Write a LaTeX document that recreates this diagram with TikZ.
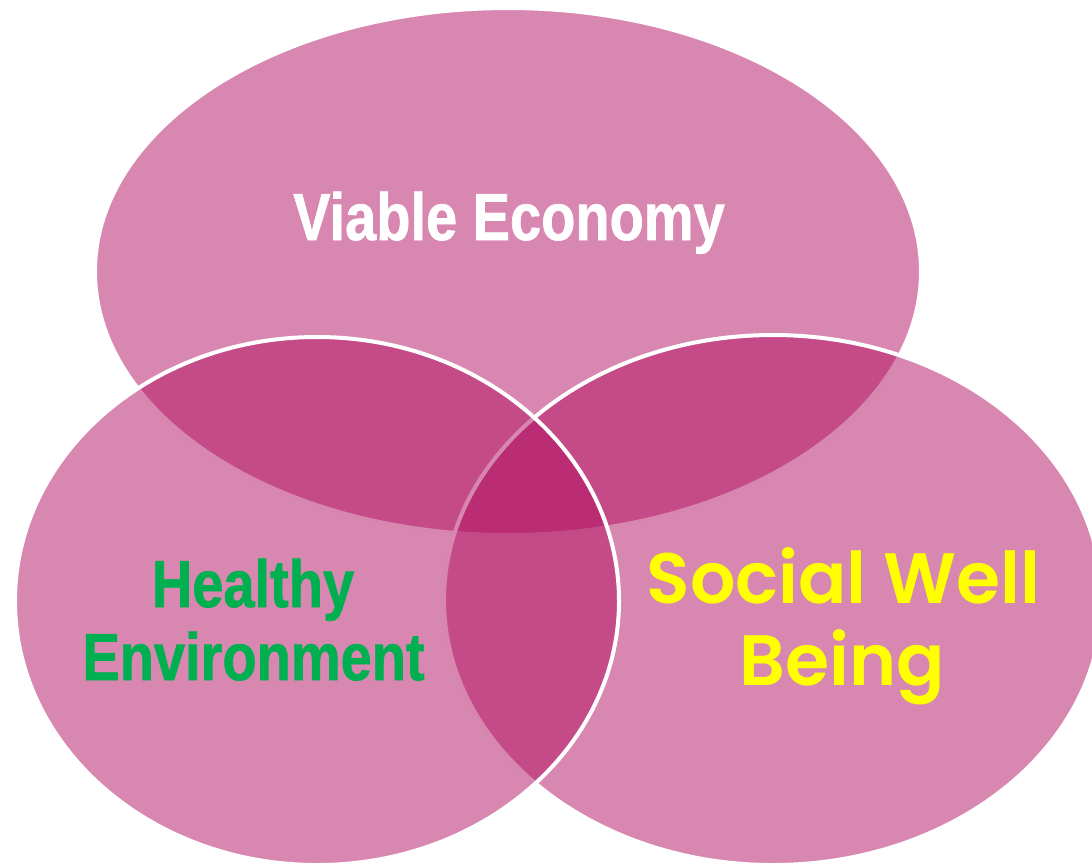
\documentclass[tikz,border=0pt]{standalone}
\usepackage{fontspec}
\usepackage{xcolor}
\usepackage{tikz}
\newfontfamily\condfont[FakeStretch=0.84,FakeBold=1]{Liberation Sans}
\newfontfamily\roundfont{Poppins SemiBold}
\definecolor{lobepink}{RGB}{177,15,97}
\definecolor{envgreen}{RGB}{0,176,80}
\definecolor{socyellow}{RGB}{255,255,0}
\begin{document}
\begin{tikzpicture}[x=0.75pt,y=0.75pt,yscale=-1,xscale=1,
  lobe/.style={fill=lobepink,fill opacity=0.5,draw=white,line width=3pt},
  condlabel/.style={anchor=base,inner sep=0.75pt,font=\condfont\bfseries\fontsize{50}{55}\selectfont},
  roundlabel/.style={anchor=base,inner sep=0.75pt,text=socyellow,font=\roundfont\fontsize{53.5}{58}\selectfont}]
\useasboundingbox (0,0) rectangle (1092,865);
% the three lobes: top, right, then left
\draw[lobe] (508,271.5) ellipse [x radius=413,y radius=263.5];
\draw[lobe] (773,600) ellipse [x radius=329,y radius=265];
\draw[lobe] (317,601) ellipse [x radius=302,y radius=264];
% labels
\node[condlabel,text=white] (economy) at (509,240) {Viable Economy};
\node[condlabel,text=envgreen] (healthy) at (253,607) {Healthy};
\node[condlabel,text=envgreen] (environment) at (253.5,680) {Environment};
\node[roundlabel] (social) at (843.5,603) {Social Well};
\node[roundlabel] (being) at (842.5,685) {Being};
\end{tikzpicture}
\end{document}
